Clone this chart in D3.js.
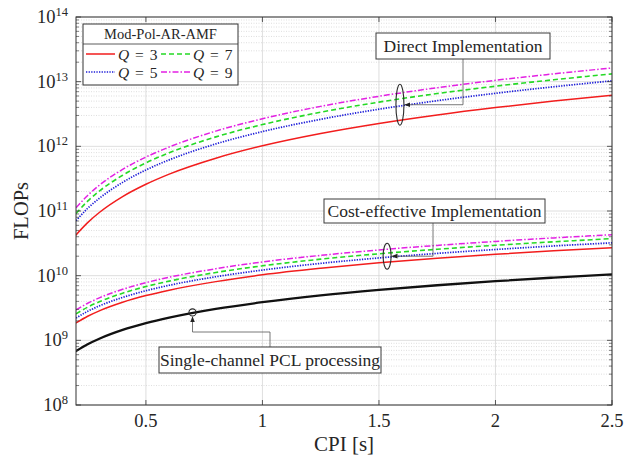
<!DOCTYPE html>
<html>
<head>
<meta charset="utf-8">
<script src="https://cdn.jsdelivr.net/npm/d3@7"></script>
<style>
  html, body { margin: 0; padding: 0; background: #fff; }
  svg { display: block; }
</style>
</head>
<body>
<svg id="chart" width="626" height="457" font-family="'Liberation Serif', 'Times New Roman', Tinos, 'DejaVu Serif', serif"></svg>
<script>
// CPI values (seconds) at which the FLOP counts are sampled
const cpi = [0.2, 0.25, 0.3, 0.4, 0.5, 0.6, 0.8, 1.0, 1.25, 1.5, 1.75, 2.0, 2.25, 2.5];

// Direct implementation of Mod-Pol-AR-AMF
const directQ3 = [4.27e10, 6.62e10, 9.48e10, 1.67e11, 2.59e11, 3.72e11, 6.55e11, 1.02e12, 1.58e12, 2.26e12, 3.06e12, 3.98e12, 5.02e12, 6.18e12];
const directQ5 = [7.08e10, 1.10e11, 1.57e11, 2.77e11, 4.31e11, 6.17e11, 1.09e12, 1.69e12, 2.62e12, 3.75e12, 5.08e12, 6.61e12, 8.34e12, 1.03e13];
const directQ7 = [9.12e10, 1.42e11, 2.03e11, 3.57e11, 5.55e11, 7.94e11, 1.40e12, 2.17e12, 3.37e12, 4.83e12, 6.55e12, 8.51e12, 1.07e13, 1.32e13];
const directQ9 = [1.12e11, 1.74e11, 2.50e11, 4.40e11, 6.82e11, 9.77e11, 1.72e12, 2.67e12, 4.15e12, 5.94e12, 8.05e12, 1.05e13, 1.32e13, 1.63e13];

// Cost-effective implementation of Mod-Pol-AR-AMF
const costQ3 = [1.86e9, 2.36e9, 2.86e9, 3.88e9, 4.92e9, 5.97e9, 8.09e9, 1.03e10, 1.30e10, 1.58e10, 1.86e10, 2.14e10, 2.42e10, 2.71e10];
const costQ5 = [2.21e9, 2.81e9, 3.40e9, 4.61e9, 5.85e9, 7.10e9, 9.62e9, 1.22e10, 1.55e10, 1.88e10, 2.21e10, 2.54e10, 2.88e10, 3.22e10];
const costQ7 = [2.57e9, 3.26e9, 3.95e9, 5.36e9, 6.79e9, 8.24e9, 1.12e10, 1.42e10, 1.80e10, 2.18e10, 2.56e10, 2.95e10, 3.34e10, 3.74e10];
const costQ9 = [2.95e9, 3.74e9, 4.54e9, 6.15e9, 7.80e9, 9.46e9, 1.28e10, 1.63e10, 2.06e10, 2.50e10, 2.94e10, 3.39e10, 3.84e10, 4.30e10];

// Single-channel PCL processing
const singleChannel = [6.84e8, 8.71e8, 1.06e9, 1.45e9, 1.84e9, 2.24e9, 3.06e9, 3.89e9, 4.96e9, 6.03e9, 7.11e9, 8.22e9, 9.33e9, 1.05e10];

// Axis ticks
const xTicks = [0.5, 1, 1.5, 2, 2.5];
const yTickExponents = [8, 9, 10, 11, 12, 13, 14];

// Legend entries (Q values) and annotation texts
const qValues = [3, 5, 7, 9];
const legendTitle = "Mod-Pol-AR-AMF";
const noteDirect = "Direct Implementation";
const noteCost = "Cost-effective Implementation";
const noteSingle = "Single-channel PCL processing";

// ---- styling per Q ----
const qStyle = {
  3: { color: "#f21d1d", dash: null, width: 1.5 },
  5: { color: "#1c1cd8", dash: "1.3,1.3", width: 1.7 },
  7: { color: "#25d925", dash: "5,3", width: 1.6 },
  9: { color: "#e321e3", dash: "6,2,1.5,2", width: 1.5 }
};

const svg = d3.select("#chart");
const plot = { left: 76, right: 612, top: 17, bottom: 405 };

const x = d3.scaleLinear().domain([0.2, 2.5]).range([plot.left, plot.right]);
const y = d3.scaleLog().domain([1e8, 1e14]).range([plot.bottom, plot.top]);

svg.append("defs").append("clipPath").attr("id", "plotClip")
  .append("rect")
  .attr("x", plot.left).attr("y", plot.top)
  .attr("width", plot.right - plot.left).attr("height", plot.bottom - plot.top);

// ---- grid ----
const grid = svg.append("g");
const minorVals = [];
for (let e = 8; e < 14; e++) for (let k = 2; k <= 9; k++) minorVals.push(k * Math.pow(10, e));
grid.selectAll("line.minor").data(minorVals).join("line")
  .attr("x1", plot.left).attr("x2", plot.right)
  .attr("y1", d => y(d)).attr("y2", d => y(d))
  .attr("stroke", "#c8c8c8").attr("stroke-width", 0.6)
  .attr("stroke-dasharray", "1,1.5");
grid.selectAll("line.majorY").data(yTickExponents.map(e => Math.pow(10, e))).join("line")
  .attr("x1", plot.left).attr("x2", plot.right)
  .attr("y1", d => y(d)).attr("y2", d => y(d))
  .attr("stroke", "#d6d6d6").attr("stroke-width", 0.8);
grid.selectAll("line.majorX").data(xTicks).join("line")
  .attr("x1", d => x(d)).attr("x2", d => x(d))
  .attr("y1", plot.top).attr("y2", plot.bottom)
  .attr("stroke", "#d6d6d6").attr("stroke-width", 0.8);

// ---- curves ----
const line = d3.line().x(d => x(d[0])).y(d => y(d[1])).curve(d3.curveMonotoneX);
const curves = svg.append("g").attr("clip-path", "url(#plotClip)");

function drawSeries(values, style) {
  curves.append("path")
    .datum(cpi.map((c, i) => [c, values[i]]))
    .attr("d", line)
    .attr("fill", "none")
    .attr("stroke", style.color)
    .attr("stroke-width", style.width)
    .attr("stroke-dasharray", style.dash)
    .attr("stroke-linecap", style.dash ? "butt" : "round");
}
const directSets = { 3: directQ3, 5: directQ5, 7: directQ7, 9: directQ9 };
const costSets = { 3: costQ3, 5: costQ5, 7: costQ7, 9: costQ9 };
qValues.forEach(q => drawSeries(directSets[q], qStyle[q]));
qValues.forEach(q => drawSeries(costSets[q], qStyle[q]));
drawSeries(singleChannel, { color: "#111", dash: null, width: 2.3 });

// ---- axes (box with inward ticks) ----
const axisColor = "#333";
const axes = svg.append("g");
axes.append("rect")
  .attr("x", plot.left).attr("y", plot.top)
  .attr("width", plot.right - plot.left).attr("height", plot.bottom - plot.top)
  .attr("fill", "none").attr("stroke", axisColor).attr("stroke-width", 1);

const majorLen = 5, minorLen = 3;
xTicks.forEach(t => {
  axes.append("line").attr("x1", x(t)).attr("x2", x(t))
    .attr("y1", plot.bottom).attr("y2", plot.bottom - majorLen)
    .attr("stroke", axisColor).attr("stroke-width", 0.8);
  axes.append("line").attr("x1", x(t)).attr("x2", x(t))
    .attr("y1", plot.top).attr("y2", plot.top + majorLen)
    .attr("stroke", axisColor).attr("stroke-width", 0.8);
});
yTickExponents.forEach(e => {
  const v = Math.pow(10, e);
  [[plot.left, plot.left + majorLen], [plot.right, plot.right - majorLen]].forEach(([a, b]) =>
    axes.append("line").attr("x1", a).attr("x2", b).attr("y1", y(v)).attr("y2", y(v))
      .attr("stroke", axisColor).attr("stroke-width", 0.8));
});
minorVals.forEach(v => {
  [[plot.left, plot.left + minorLen], [plot.right, plot.right - minorLen]].forEach(([a, b]) =>
    axes.append("line").attr("x1", a).attr("x2", b).attr("y1", y(v)).attr("y2", y(v))
      .attr("stroke", axisColor).attr("stroke-width", 0.6));
});

// tick labels
const labelColor = "#262626";
axes.selectAll("text.xt").data(xTicks).join("text")
  .attr("x", d => x(d)).attr("y", plot.bottom + 22)
  .attr("text-anchor", "middle").attr("font-size", 18.5).attr("fill", labelColor)
  .text(d => String(d));
yTickExponents.forEach(e => {
  const t = axes.append("text")
    .attr("x", plot.left - 8).attr("y", y(Math.pow(10, e)) + 6)
    .attr("text-anchor", "end").attr("font-size", 18.5).attr("fill", labelColor);
  t.append("tspan").text("10");
  t.append("tspan").attr("font-size", 12.5).attr("dy", -7).text(String(e));
});

// axis titles
svg.append("text")
  .attr("x", 344).attr("y", 451)
  .attr("text-anchor", "middle").attr("font-size", 21).attr("fill", labelColor)
  .text("CPI [s]");
svg.append("text")
  .attr("transform", `translate(28,${(plot.top + plot.bottom) / 2}) rotate(-90)`)
  .attr("text-anchor", "middle").attr("font-size", 20.5).attr("fill", labelColor)
  .text("FLOPs");

// ---- legend ----
const lg = svg.append("g");
const lgBox = { x: 83, y: 24, w: 155, h: 61, sep: 44 };
lg.append("rect").attr("x", lgBox.x).attr("y", lgBox.y).attr("width", lgBox.w).attr("height", lgBox.h)
  .attr("fill", "#fff").attr("stroke", axisColor).attr("stroke-width", 1);
lg.append("line").attr("x1", lgBox.x).attr("x2", lgBox.x + lgBox.w)
  .attr("y1", lgBox.sep).attr("y2", lgBox.sep).attr("stroke", axisColor).attr("stroke-width", 0.8);
lg.append("text").attr("x", lgBox.x + lgBox.w / 2).attr("y", 39)
  .attr("text-anchor", "middle").attr("font-size", 14.5).attr("fill", labelColor).text(legendTitle);

const legendSlots = { 3: [0, 0], 7: [1, 0], 5: [0, 1], 9: [1, 1] };
const colX = [86, 161], rowY = [54, 72], lineLen = 29;
qValues.forEach(q => {
  const [c, r] = legendSlots[q];
  const st = qStyle[q];
  lg.append("line").attr("x1", colX[c]).attr("x2", colX[c] + lineLen)
    .attr("y1", rowY[r]).attr("y2", rowY[r])
    .attr("stroke", st.color).attr("stroke-width", st.width).attr("stroke-dasharray", st.dash);
  const t = lg.append("text").attr("x", colX[c] + lineLen + 3).attr("y", rowY[r] + 5.5)
    .attr("font-size", 15.5).attr("word-spacing", 2).attr("fill", labelColor);
  t.append("tspan").attr("font-style", "italic").text("Q");
  t.append("tspan").text(` = ${q}`);
});

// ---- annotations ----
const noteColor = "#3a3a3a";
const defs = svg.select("defs");
defs.append("marker").attr("id", "arrowHead")
  .attr("viewBox", "0 0 10 10").attr("refX", 9).attr("refY", 5)
  .attr("markerWidth", 6).attr("markerHeight", 6).attr("orient", "auto-start-reverse")
  .attr("markerUnits", "userSpaceOnUse")
  .append("path").attr("d", "M0,1 L10,5 L0,9 Z").attr("fill", "#222");

const notes = svg.append("g");
function noteBox(label, bx, by, bw, bh) {
  notes.append("rect").attr("x", bx).attr("y", by).attr("width", bw).attr("height", bh)
    .attr("fill", "#fff").attr("stroke", noteColor).attr("stroke-width", 1);
  notes.append("text").attr("x", bx + bw / 2).attr("y", by + bh / 2 + 6)
    .attr("text-anchor", "middle").attr("font-size", 17.5).attr("fill", labelColor).text(label);
}

// Direct implementation: ellipse grouping the four Q curves
const dCx = x(1.59), dCy = y(4.4e12);
notes.append("ellipse").attr("cx", dCx).attr("cy", dCy).attr("rx", 4).attr("ry", 20.5)
  .attr("fill", "none").attr("stroke", "#2a2a2a").attr("stroke-width", 1.1);
notes.append("path").attr("d", `M463,59 V${dCy} H${dCx + 5}`)
  .attr("fill", "none").attr("stroke", "#555").attr("stroke-width", 0.8)
  .attr("marker-end", "url(#arrowHead)");
noteBox(noteDirect, 376, 33, 174, 26);

// Cost-effective implementation
const cCx = x(1.535), cCy = y(2.0e10);
notes.append("ellipse").attr("cx", cCx).attr("cy", cCy).attr("rx", 4).attr("ry", 13)
  .attr("fill", "none").attr("stroke", "#2a2a2a").attr("stroke-width", 1.1);
notes.append("path").attr("d", `M433,223 V${cCy} H${cCx + 5}`)
  .attr("fill", "none").attr("stroke", "#555").attr("stroke-width", 0.8)
  .attr("marker-end", "url(#arrowHead)");
noteBox(noteCost, 324, 199, 221, 24);

// Single-channel processing
const sCx = x(0.7), sCy = y(2.7e9);
notes.append("circle").attr("cx", sCx).attr("cy", sCy).attr("r", 3.6)
  .attr("fill", "none").attr("stroke", "#2a2a2a").attr("stroke-width", 1.1);
notes.append("path").attr("d", `M270,347 V332 H${sCx} V${sCy + 4.5}`)
  .attr("fill", "none").attr("stroke", "#555").attr("stroke-width", 0.8)
  .attr("marker-end", "url(#arrowHead)");
noteBox(noteSingle, 159, 347, 222, 26);
</script>
</body>
</html>
